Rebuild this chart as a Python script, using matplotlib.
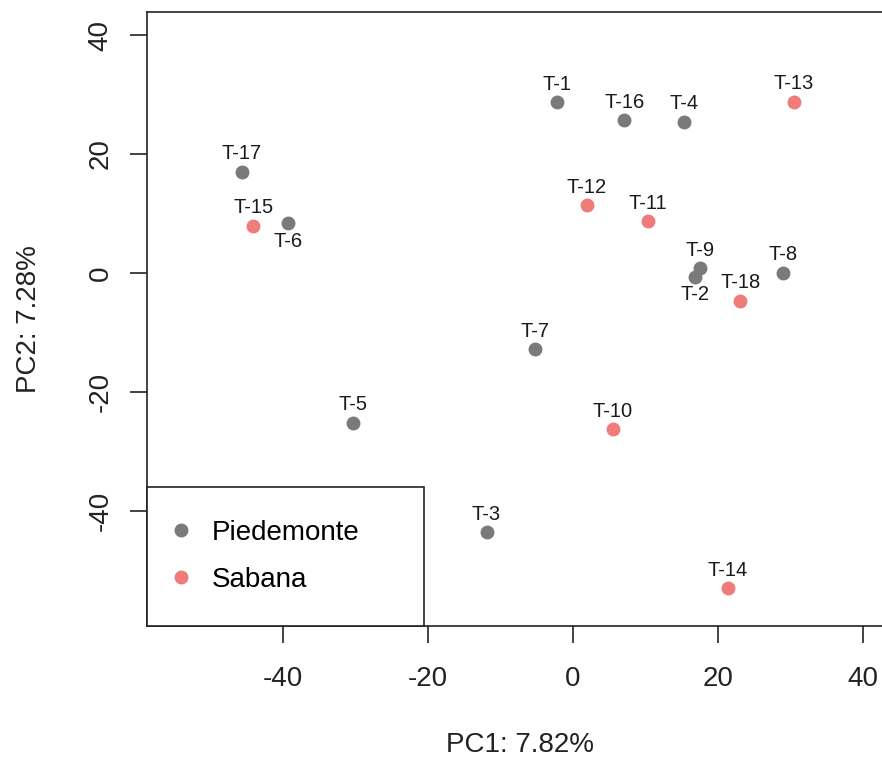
"""PCA scatter: PC1 vs PC2, samples labelled and coloured by zone."""
import matplotlib
matplotlib.use("Agg")
import matplotlib.pyplot as plt

plt.rcParams["font.family"] = ["Liberation Sans", "DejaVu Sans"]
plt.rcParams["axes.unicode_minus"] = False

# --- data ---
names = ["T-1", "T-16", "T-4", "T-17", "T-6", "T-9", "T-2", "T-8", "T-7",
         "T-5", "T-3", "T-13", "T-15", "T-12", "T-11", "T-18", "T-10", "T-14"]
pc1 = [-2.2, 7.1, 15.3, -45.7, -39.3, 17.6, 16.9, 29.0, -5.2,
       -30.4, -11.9, 30.5, -44.1, 1.9, 10.4, 23.1, 5.5, 21.4]
pc2 = [28.7, 25.7, 25.4, 17.0, 8.35, 0.8, -0.6, 0.05, -12.8,
       -25.2, -43.6, 28.8, 7.9, 11.4, 8.7, -4.7, -26.3, -53.0]
zone = ["Piedemonte"] * 11 + ["Sabana"] * 7
below = ["T-6", "T-2"]   # labels written under the point

COLORS = {"Piedemonte": "#7a7a7a", "Sabana": "#f07b7b"}
xticks = [-40, -20, 0, 20, 40]
yticks = [-40, -20, 0, 20, 40]

fig = plt.figure(figsize=(8.82, 7.6), dpi=100)
ax = fig.add_axes([0.16667, 0.17632, 0.8458, 0.80789])

for z, color in COLORS.items():
    xs = [x for x, g in zip(pc1, zone) if g == z]
    ys = [y for y, g in zip(pc2, zone) if g == z]
    ax.plot(xs, ys, linestyle="none", marker="o", markersize=9,
            markerfacecolor=color, markeredgecolor=color, label=z)

for n, x, y in zip(names, pc1, pc2):
    dy = -13 if n in below else 13
    ax.annotate(n, (x, y), xytext=(0, dy), textcoords="offset points",
                ha="center", va="center", fontsize=14.5, color="#1a1a1a")

ax.set_xlim(-58.76, 44.19)
ax.set_ylim(-59.33, 43.87)
ax.set_xticks(xticks)
ax.set_yticks(yticks)
ax.tick_params(axis="both", direction="out", length=12, width=1.2,
               labelsize=20, colors="#222222")
ax.tick_params(axis="x", pad=17)
ax.tick_params(axis="y", pad=12)
plt.setp(ax.get_yticklabels(), rotation=90, va="center")
for sp in ax.spines.values():
    sp.set_linewidth(1.2)
    sp.set_color("#222222")

ax.set_xlabel("PC1: 7.82%", fontsize=20, va="center", color="#222222")
ax.set_ylabel("PC2: 7.28%", fontsize=20, va="center", color="#222222")
ax.xaxis.set_label_coords(0.5, -0.194)
ax.yaxis.set_label_coords(-0.158, 0.5)

leg = ax.legend(loc="lower left", bbox_to_anchor=(0, 0, 0.371, 0.2),
                mode="expand", borderaxespad=0, fontsize=20, fancybox=False,
                frameon=True, handlelength=0.1, handletextpad=1.05,
                borderpad=1.18, labelspacing=0.77, framealpha=1)
leg.get_frame().set_edgecolor("#222222")
leg.get_frame().set_linewidth(1.2)

plt.savefig("out.png", dpi=100, facecolor="white")
